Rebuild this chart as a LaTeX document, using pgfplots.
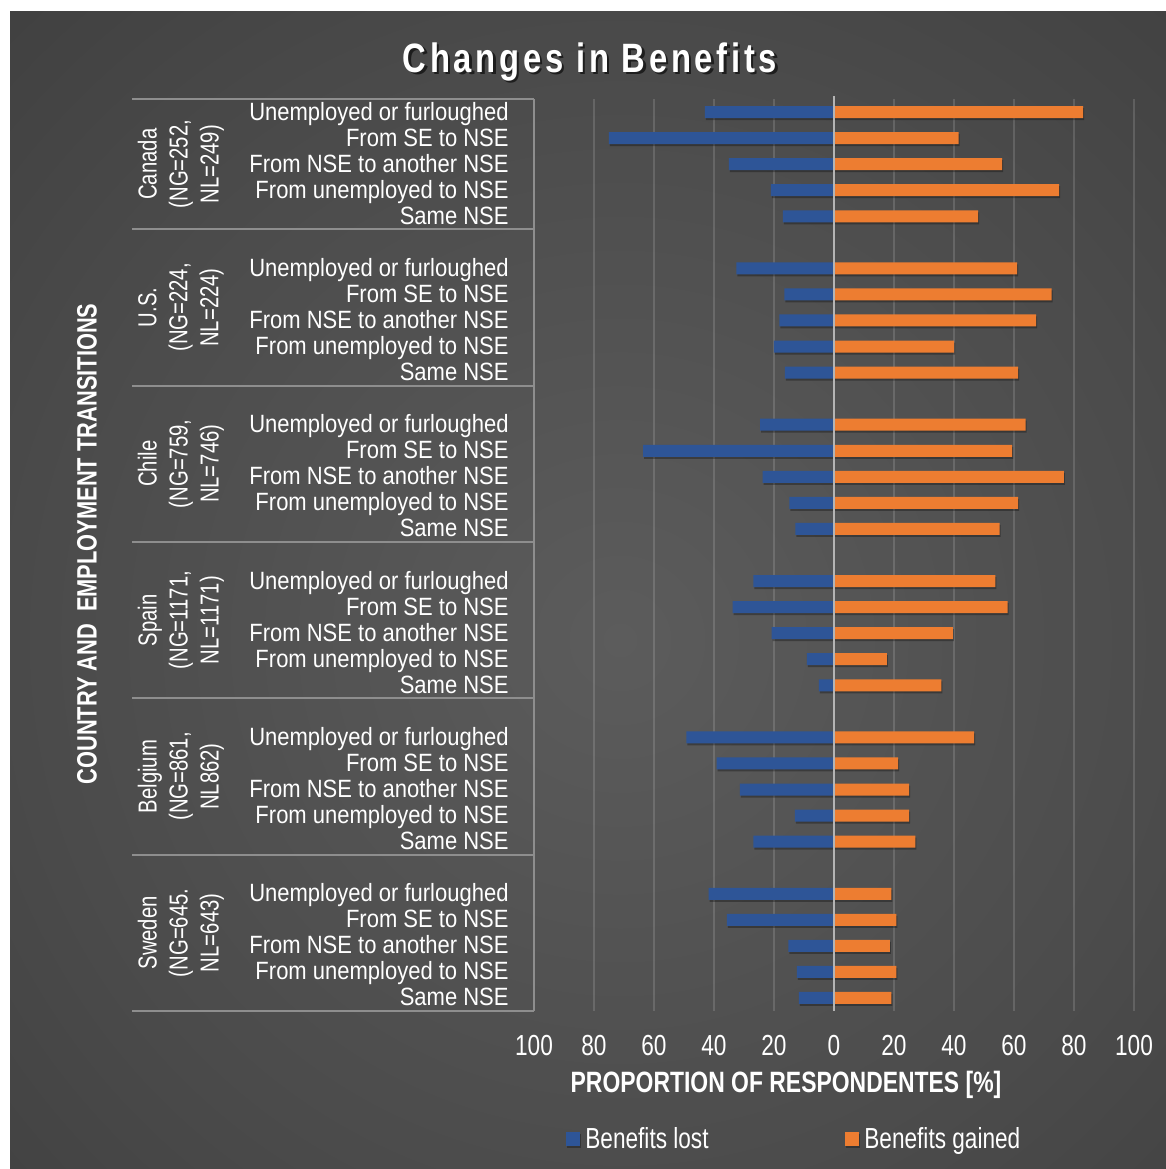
\documentclass[border=0pt]{standalone}
\usepackage{fontspec}
\usepackage{pgfplots}
\usepackage{pgfplotstable}
\pgfplotsset{compat=1.18}

\setmainfont{Liberation Sans}
\newfontfamily\catfont{Liberation Sans}[FakeStretch=0.88]
\newfontfamily\narrowfont{Liberation Sans}[FakeStretch=0.78]
\newfontfamily\titlefont{Liberation Sans}[FakeStretch=0.80,LetterSpace=9]

\definecolor{lostblue}{HTML}{2E5597}
\definecolor{gainorange}{HTML}{ED7D31}
\definecolor{bgin}{HTML}{5C5C5C}
\definecolor{bgmid}{HTML}{4B4B4B}
\definecolor{bgdark}{HTML}{363636}
\definecolor{bgout}{HTML}{2A2A2A}
\definecolor{sepgray}{HTML}{8E8E8E}
\definecolor{zerogray}{HTML}{B4B4B4}

\pgfdeclareradialshading{panelbg}{\pgfpoint{0bp}{0bp}}{%
  color(0bp)=(bgin); color(16bp)=(bgmid); color(33bp)=(bgdark); color(50bp)=(bgout); color(75bp)=(bgout)}

% pos: row of the bar from the top (blank rows between countries)
% lost: share reporting benefits lost (drawn to the left), gained: share reporting benefits gained
\pgfplotstableread{
pos lost gained
0  -43.0 83.0
1  -75.0 41.5
2  -35.0 56.0
3  -21.0 75.0
4  -17.0 48.0
6  -32.5 61.0
7  -16.5 72.5
8  -18.2 67.4
9  -20.0 40.0
10 -16.4 61.4
12 -24.6 63.9
13 -63.6 59.4
14 -23.8 76.6
15 -14.9 61.4
16 -12.9 55.2
18 -26.9 53.8
19 -33.8 57.9
20 -20.8 39.6
21  -9.0 17.6
22  -5.0 35.8
24 -49.2 46.7
25 -39.1 21.4
26 -31.4 25.0
27 -13.0 25.0
28 -26.9 27.1
30 -41.8 19.1
31 -35.7 20.8
32 -15.2 18.6
33 -12.4 20.8
34 -11.7 19.1
}\benefits

\begin{document}
\begin{tikzpicture}
\path[use as bounding box] (0pt,0pt) rectangle (583pt,584.5pt);
\fill[white] (0pt,0pt) rectangle (583pt,584.5pt);
\begin{scope}
  \clip (5pt,0pt) rectangle (583pt,578.5pt);
  % light spot slightly below the middle of the bars
  \shade[shading=panelbg] (-140pt,-185.5pt) rectangle (760pt,714.5pt);
\end{scope}

% title with a soft shadow
\node[text=black, opacity=0.6, font=\titlefont\bfseries\fontsize{20.5}{23}\selectfont]
  at (296.2pt,552.3pt) {Changes in Benefits};
\node[text=white, font=\titlefont\bfseries\fontsize{20.5}{23}\selectfont]
  at (295pt,553.5pt) {Changes in Benefits};

% axis titles
\node[rotate=90, text=white, font=\narrowfont\bfseries\fontsize{14}{16}\selectfont]
  at (43.5pt,312.5pt) {COUNTRY AND~ EMPLOYMENT TRANSITIONS};
\node[text=white, font=\narrowfont\bfseries\fontsize{14.7}{18}\selectfont]
  at (393pt,42pt) {PROPORTION OF RESPONDENTES [\%]};

\begin{axis}[
  at={(267pt,79pt)}, anchor=south west,
  width=300pt, height=456pt, scale only axis,
  xmin=-100, xmax=100, ymin=-0.5, ymax=34.5, y dir=reverse,
  axis line style={draw=none},
  major tick length=0pt,
  xtick={-100,-80,...,100},
  xticklabels={100,80,60,40,20,0,20,40,60,80,100},
  xmajorgrids,
  major grid style={white, opacity=0.14, line width=1pt},
  ytick={0,1,2,3,4,6,7,8,9,10,12,13,14,15,16,18,19,20,21,22,24,25,26,27,28,30,31,32,33,34},
  yticklabels={
    Unemployed or furloughed, From SE to NSE, From NSE to another NSE, From unemployed to NSE, Same NSE,
    Unemployed or furloughed, From SE to NSE, From NSE to another NSE, From unemployed to NSE, Same NSE,
    Unemployed or furloughed, From SE to NSE, From NSE to another NSE, From unemployed to NSE, Same NSE,
    Unemployed or furloughed, From SE to NSE, From NSE to another NSE, From unemployed to NSE, Same NSE,
    Unemployed or furloughed, From SE to NSE, From NSE to another NSE, From unemployed to NSE, Same NSE,
    Unemployed or furloughed, From SE to NSE, From NSE to another NSE, From unemployed to NSE, Same NSE},
  xticklabel style={font=\narrowfont\fontsize{14.5}{16}\selectfont, text=white,
    inner sep=0pt, anchor=center, yshift=-17.25pt},
  yticklabel style={font=\catfont\fontsize{12.5}{13}\selectfont, text=white,
    inner sep=0pt, anchor=base east, xshift=-12.5pt, yshift=-4pt},
  clip=false,
  bar width=6pt,
  legend columns=2,
  legend style={at={(axis description cs:0.0533,-0.1404)}, anchor=west,
    draw=none, fill=none, text=white, inner sep=0pt,
    nodes={inner sep=0pt},
    font=\narrowfont\fontsize{14.5}{16}\selectfont},
]
\addplot[xbar, bar shift=0pt, fill=lostblue, draw=none,
  preaction={fill=black, fill opacity=0.3, draw=none, transform canvas={xshift=0.5pt,yshift=-1pt}},
  legend image code/.code={\fill[lostblue] (0pt,-3.5pt) rectangle (7pt,3.5pt);}]
  table[x=lost, y=pos] {\benefits};
\addlegendentry{\hspace{2.5pt}\makebox[130pt][l]{Benefits lost}}
\addplot[xbar, bar shift=0pt, fill=gainorange, draw=none,
  preaction={fill=black, fill opacity=0.3, draw=none, transform canvas={xshift=0.5pt,yshift=-1pt}},
  legend image code/.code={\fill[gainorange] (0pt,-3.5pt) rectangle (7pt,3.5pt);}]
  table[x=gained, y=pos] {\benefits};
\addlegendentry{\hspace{2.5pt}Benefits gained}

% zero line over the bars
\draw[zerogray, line width=1.3pt] (axis cs:0,-0.6) -- (axis cs:0,34.5);
% category axis line and country separators
\draw[sepgray, line width=0.6pt] (axis cs:-100,-0.5) -- (axis cs:-100,34.5);
\pgfplotsinvokeforeach{-0.5,4.5,10.5,16.5,22.5,28.5,34.5}{
  \draw[sepgray, line width=1pt] (axis cs:-100,#1) -- ++(-201pt,0pt);
}
% country labels
\tikzset{country/.style={rotate=90, align=center, text=white,
  font=\narrowfont\fontsize{13}{15.5}\selectfont}}
\node[country] at ([xshift=-176.5pt]axis cs:-100,2)    {Canada\\(NG=252,\\NL=249)};
\node[country] at ([xshift=-176.5pt]axis cs:-100,7.5)  {U.S.\\(NG=224,\\NL=224)};
\node[country] at ([xshift=-176.5pt]axis cs:-100,13.5) {Chile\\(NG=759,\\NL=746)};
\node[country] at ([xshift=-176.5pt]axis cs:-100,19.5) {Spain\\(NG=1171,\\NL=1171)};
\node[country] at ([xshift=-176.5pt]axis cs:-100,25.5) {Belgium\\(NG=861,\\NL862)};
\node[country] at ([xshift=-176.5pt]axis cs:-100,31.5) {Sweden\\(NG=645.\\NL=643)};
\end{axis}
\end{tikzpicture}
\end{document}
